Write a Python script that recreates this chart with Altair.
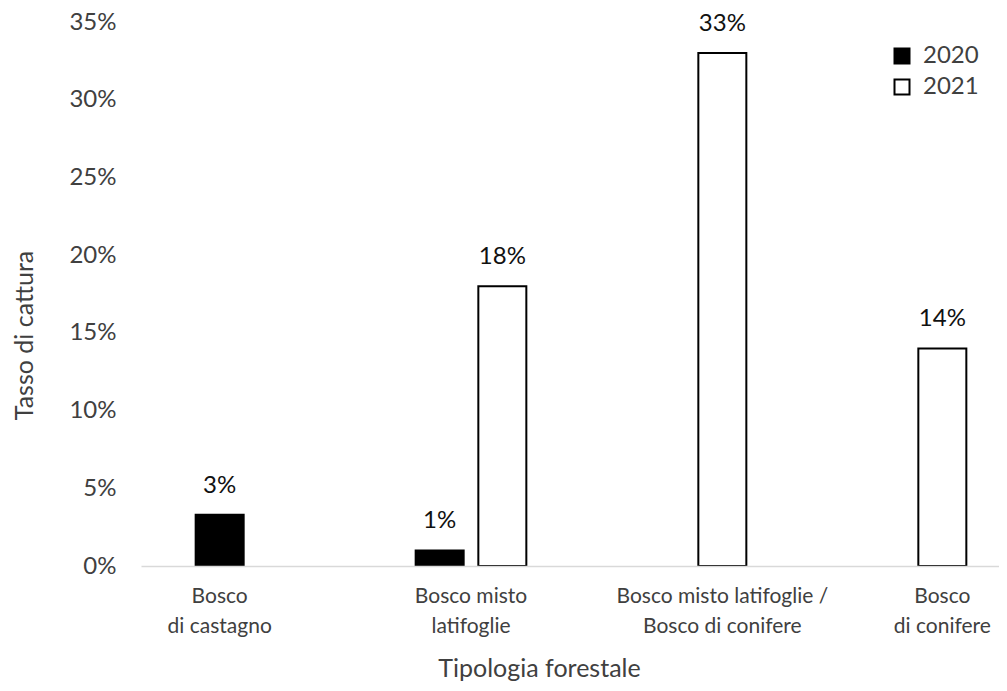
import altair as alt
import pandas as pd

# ---- data ----
categories = [
    "Bosco\ndi castagno",
    "Bosco misto\nlatifoglie",
    "Bosco misto latifoglie /\nBosco di conifere",
    "Bosco\ndi conifere",
]
years = ["2020", "2021"]
rates_2020 = [0.033, 0.010, None, None]
rates_2021 = [None, 0.18, 0.33, 0.14]
# where each category label sits relative to its bars
label_anchor = ["2020", "mid", "2021", "2021"]
y_ticks = [0, 0.05, 0.10, 0.15, 0.20, 0.25, 0.30, 0.35]

rows = []
for cat, v20, v21 in zip(categories, rates_2020, rates_2021):
    for yr, v in (("2020", v20), ("2021", v21)):
        if v is not None:
            rows.append({"category": cat, "year": yr, "rate": v})
bars_df = pd.DataFrame(rows)
labels_df = pd.DataFrame({"category": categories, "anchor": label_anchor})

FONT = "Lato"
GREY = "#404040"

x_enc = alt.X(
    "category:N",
    sort=categories,
    scale=alt.Scale(domain=categories, range=[0, 880], paddingInner=0, paddingOuter=0),
    axis=alt.Axis(
        labels=False, ticks=False, grid=False,
        domainColor="#d9d9d9", domainWidth=1.5, zindex=1,
        title="Tipologia forestale", titleFont=FONT, titleFontSize=25,
        titleFontWeight="normal", titleColor=GREY,
        titleX=398, titleY=110, titleAlign="center", titleBaseline="alphabetic",
    ),
)
off_scale = alt.Scale(domain=["2020", "mid", "2021"], range=[63, 157],
                      paddingInner=0, paddingOuter=0)

y_enc = alt.Y(
    "rate:Q",
    scale=alt.Scale(domain=[0, 0.35], nice=False),
    axis=alt.Axis(
        values=y_ticks, format=".0%", domain=False, ticks=False, grid=False,
        labelFont=FONT, labelFontSize=24, labelColor=GREY, labelPadding=25,
        title="Tasso di cattura", titleFont=FONT, titleFontSize=25,
        titleFontWeight="normal", titleColor=GREY,
        titleX=-117, titleY=313, titleAngle=270,
        titleAlign="center", titleBaseline="middle",
    ),
)

bars = alt.Chart(bars_df).mark_bar(width=48, stroke="black", strokeWidth=2).encode(
    x=x_enc,
    xOffset=alt.XOffset("year:N", scale=off_scale),
    y=y_enc,
    fill=alt.Fill(
        "year:N",
        scale=alt.Scale(domain=years, range=["#000000", "#ffffff"]),
        legend=alt.Legend(
            title=None, orient="none", legendX=749, legendY=22,
            symbolType="square", symbolSize=225,
            symbolStrokeColor="black", symbolStrokeWidth=2,
            labelFont=FONT, labelFontSize=24, labelColor=GREY,
            labelOffset=9, rowPadding=7, padding=0,
        ),
    ),
)

values = alt.Chart(bars_df).mark_text(
    dy=-22, baseline="alphabetic", font=FONT, fontSize=24, color="#111111"
).encode(
    x=x_enc,
    xOffset=alt.XOffset("year:N", scale=off_scale),
    y=y_enc,
    text=alt.Text("rate:Q", format=".0%"),
)

xlabels = alt.Chart(labels_df).mark_text(
    baseline="top", align="center", lineBreak="\n", lineHeight=30,
    font=FONT, fontSize=21, color=GREY,
).encode(
    x=x_enc,
    xOffset=alt.XOffset("anchor:N", scale=off_scale),
    y=alt.value(564),
    text="category:N",
)

chart = alt.layer(bars, values, xlabels).properties(
    width=858,
    height=544,
    autosize=alt.AutoSizeParams(type="none"),
    padding={"left": 133, "top": 14, "right": 0, "bottom": 117},
).configure_view(stroke=None)

chart.save("out.html", embed_options={"renderer": "svg", "actions": False})
